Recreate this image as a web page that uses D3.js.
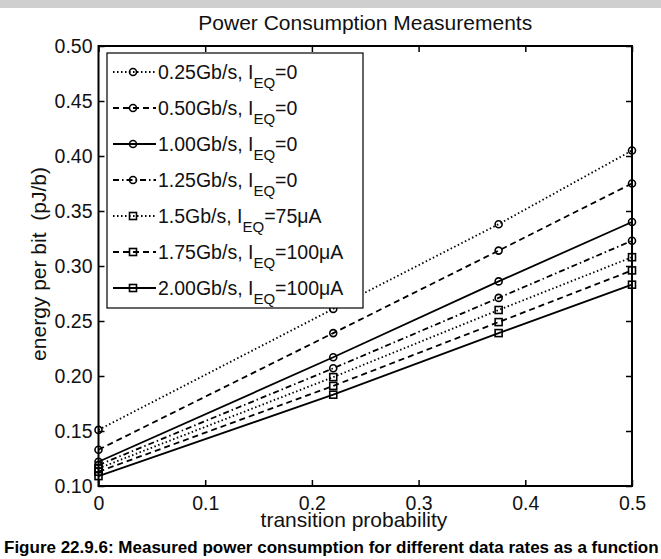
<!DOCTYPE html>
<html>
<head>
<meta charset="utf-8">
<script src="https://cdn.jsdelivr.net/npm/d3@7"></script>
<style>
  body { margin: 0; background: #fff; }
  svg { display: block; font-family: "Liberation Sans", Arial, sans-serif; }
</style>
</head>
<body>
<div id="chart"></div>
<script>
// transition probability at which each rate was measured
const xValues = [0, 0.22, 0.375, 0.5];

const rates = ["0.25Gb/s", "0.50Gb/s", "1.00Gb/s", "1.25Gb/s", "1.5Gb/s", "1.75Gb/s", "2.00Gb/s"];
const currents = ["0", "0", "0", "0", "75\u03bcA", "100\u03bcA", "100\u03bcA"];

const e025 = [0.151, 0.261, 0.338, 0.405];
const e050 = [0.133, 0.239, 0.314, 0.375];
const e100 = [0.122, 0.217, 0.286, 0.340];
const e125 = [0.119, 0.207, 0.271, 0.323];
const e150 = [0.116, 0.199, 0.260, 0.308];
const e175 = [0.113, 0.191, 0.249, 0.296];
const e200 = [0.109, 0.183, 0.239, 0.283];

const xTicks = [0, 0.1, 0.2, 0.3, 0.4, 0.5];
const yTicks = [0.10, 0.15, 0.20, 0.25, 0.30, 0.35, 0.40, 0.45, 0.50];

const series = [e025, e050, e100, e125, e150, e175, e200].map((vals, i) => ({
  rate: rates[i],
  current: currents[i],
  points: vals.map((v, j) => ({ x: xValues[j], y: v })),
}));

// matlab-ish line styles
const dashes = ["1.5,2.5", "6,4", null, "6,3,1.5,3", "1.5,2.5", "6,4", null];
const marks = ["circle", "circle", "circle", "circle", "square", "square", "square"];

const width = 661, height = 559;
const margin = { left: 98.5, right: 29, top: 46, bottom: 73 };
const innerWidth = width - margin.left - margin.right;
const innerHeight = height - margin.top - margin.bottom;

const svg = d3.select("#chart").append("svg")
  .attr("width", width)
  .attr("height", height);

// grey strip at the top of the scan
svg.append("rect")
  .attr("x", 0).attr("y", 0)
  .attr("width", width).attr("height", 8)
  .attr("fill", "#cfcfcf");

const xScale = d3.scaleLinear().domain([0, 0.5]).range([0, innerWidth]);
const yScale = d3.scaleLinear().domain([0.1, 0.5]).range([innerHeight, 0]);

const g = svg.append("g")
  .attr("transform", `translate(${margin.left},${margin.top})`);

// axes, ticks pointing inward on all four sides
const tickLen = 6;
const axisStyle = (sel) => {
  sel.select(".domain").remove();
  sel.selectAll("line").attr("stroke", "#000").attr("stroke-width", 1.5);
  sel.selectAll("text").attr("fill", "#111").style("font-size", "19.5px");
};

g.append("g")
  .attr("transform", `translate(0,${innerHeight})`)
  .call(d3.axisBottom(xScale).tickValues(xTicks).tickFormat(d3.format("")).tickSizeInner(-tickLen).tickPadding(10))
  .call(axisStyle);

g.append("g")
  .call(d3.axisTop(xScale).tickValues(xTicks).tickSizeInner(-tickLen).tickFormat(""))
  .call(axisStyle);

g.append("g")
  .call(d3.axisLeft(yScale).tickValues(yTicks).tickFormat(d3.format(".2f")).tickSizeInner(-tickLen).tickPadding(6))
  .call(axisStyle);

g.append("g")
  .attr("transform", `translate(${innerWidth},0)`)
  .call(d3.axisRight(yScale).tickValues(yTicks).tickSizeInner(-tickLen).tickFormat(""))
  .call(axisStyle);

g.append("rect")
  .attr("width", innerWidth)
  .attr("height", innerHeight)
  .attr("fill", "none")
  .attr("stroke", "#000")
  .attr("stroke-width", 2);

const line = d3.line()
  .x((d) => xScale(d.x))
  .y((d) => yScale(d.y));

const drawMark = (sel, type) => {
  if (type === "circle") {
    sel.append("circle").attr("r", 3.5);
  } else {
    sel.append("rect").attr("x", -3.5).attr("y", -3.5).attr("width", 7).attr("height", 7);
  }
  sel.selectAll("circle, rect")
    .attr("fill", "none")
    .attr("stroke", "#000")
    .attr("stroke-width", 1.6);
};

const lineG = g.selectAll(".series").data(series).join("g").attr("class", "series");

lineG.append("path")
  .attr("fill", "none")
  .attr("stroke", "#000")
  .attr("stroke-width", 1.8)
  .attr("stroke-dasharray", (d, i) => dashes[i])
  .attr("d", (d) => line(d.points));

lineG.each(function (d, i) {
  d3.select(this).selectAll(".pt")
    .data(d.points)
    .join("g")
    .attr("class", "pt")
    .attr("transform", (p) => `translate(${xScale(p.x)},${yScale(p.y)})`)
    .each(function () { drawMark(d3.select(this), marks[i]); });
});

// legend
const legend = svg.append("g").attr("transform", "translate(107,53)");
legend.append("rect")
  .attr("width", 256)
  .attr("height", 255)
  .attr("fill", "#fff")
  .attr("stroke", "#000")
  .attr("stroke-width", 1.2);

const item = legend.selectAll(".item").data(series).join("g")
  .attr("class", "item")
  .attr("transform", (d, i) => `translate(0,${19 + i * 36})`);

item.append("line")
  .attr("x1", 6).attr("x2", 49)
  .attr("stroke", "#000")
  .attr("stroke-width", 1.8)
  .attr("stroke-dasharray", (d, i) => dashes[i]);

item.each(function (d, i) {
  const m = d3.select(this).append("g").attr("transform", "translate(26,0)");
  drawMark(m, marks[i]);
});

const label = item.append("text")
  .attr("x", 51)
  .attr("y", 7)
  .attr("fill", "#111")
  .style("font-size", "19.5px");
label.append("tspan").text((d) => `${d.rate}, I`);
label.append("tspan").attr("dy", 9).style("font-size", "15px").text("EQ");
label.append("tspan").attr("dy", -9).text((d) => `=${d.current}`);

// titles
svg.append("text")
  .attr("x", margin.left + innerWidth / 2)
  .attr("y", 30)
  .attr("text-anchor", "middle")
  .attr("fill", "#111")
  .style("font-size", "21px")
  .text("Power Consumption Measurements");

svg.append("text")
  .attr("x", 354)
  .attr("y", 527)
  .attr("text-anchor", "middle")
  .attr("fill", "#111")
  .style("font-size", "21px")
  .text("transition probability");

svg.append("text")
  .attr("transform", "translate(46,264) rotate(-90)")
  .attr("text-anchor", "middle")
  .attr("fill", "#111")
  .style("font-size", "21px")
  .style("white-space", "pre")
  .text("energy per bit  (pJ/b)");

svg.append("text")
  .attr("x", 4)
  .attr("y", 553)
  .attr("fill", "#000")
  .style("font-family", "'Liberation Sans Narrow', 'Liberation Sans', sans-serif")
  .style("font-weight", "bold")
  .style("font-size", "17px")
  .text("Figure 22.9.6: Measured power consumption for different data rates as a function");
</script>
</body>
</html>
